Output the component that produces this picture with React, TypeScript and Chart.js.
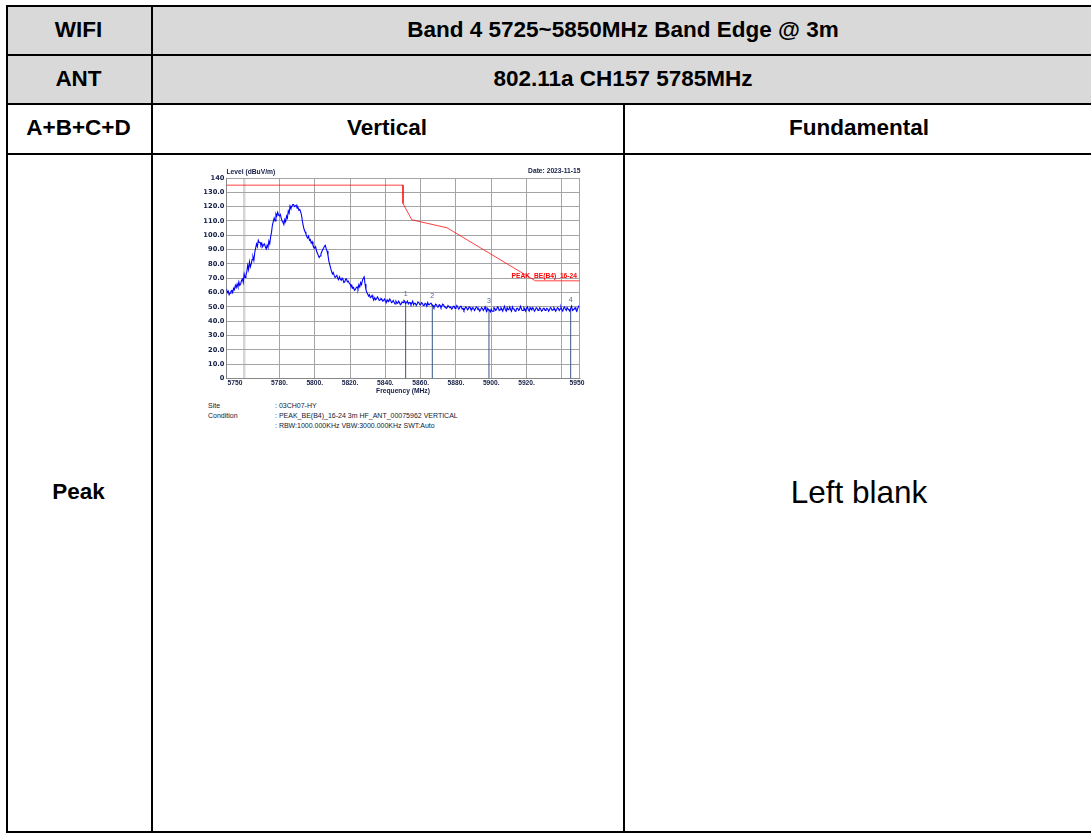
import React, { useEffect, useRef } from "react";
import { Chart, registerables } from "chart.js";

Chart.register(...registerables);

// ---- Data ----
const traceStartMHz = 5750;
const traceStepMHz = 0.5;
const traceLevels = [
  62.5, 60, 61, 58.5, 59.5, 61, 61.5, 60, 63, 62,
  65, 63.5, 66, 64, 67.5, 65, 66, 68.5, 69.5, 67,
  73, 70.5, 72, 74.5, 79, 76, 81.5, 78, 80, 83,
  85, 82.5, 88, 91, 94, 92, 96.5, 95, 95, 93,
  94.5, 92, 93.5, 94, 92, 90.5, 93, 91.5, 96, 94,
  99, 102, 107, 109.5, 112, 110, 115, 113.5, 116, 114,
  113.5, 114.5, 112, 110, 109, 107.5, 111, 109.5, 113.5, 112,
  117, 115.5, 120.5, 119, 120, 121.5, 121.5, 120, 120.5, 121,
  119, 119.5, 117.5, 118, 116.5, 114, 110, 106.5, 104, 102.5,
  101, 99, 98, 99.5, 96.5, 97, 94.5, 95.5, 93, 92,
  91, 92, 89, 87.5, 86, 84.5, 85.5, 87, 88.5, 90,
  91, 92.5, 93, 90.5, 89, 86, 82, 79.5, 77, 75,
  73, 74, 72, 70.5, 70.5, 72, 70, 69, 71, 69.5,
  68.5, 70, 69, 67, 67.5, 69.5, 69.5, 67.5, 68, 66.5,
  66, 64.5, 65, 63, 63.5, 61.5, 62, 63.5, 64, 62.5,
  65.5, 64, 67, 65.5, 68.5, 70, 71, 66, 62, 60,
  59, 57.5, 58.5, 56.5, 57, 58, 56, 55, 56.5, 55,
  55.5, 57, 56, 54.5, 55, 56, 55.5, 54, 54.5, 55.5,
  54, 53, 55, 54, 54, 55.5, 54.5, 53, 53.5, 54.5,
  53, 52, 54, 53, 52.5, 54, 53, 51.5, 52, 53.5,
  53, 54.5, 54, 52.5, 53, 54, 52, 53, 53, 51.5,
  52.5, 54, 51.5, 52.5, 52.5, 51, 52, 53.5, 53, 51.5,
  51.5, 53, 52.5, 51, 51, 52.5, 52, 50.5, 53, 51.5,
  51.5, 52.5, 52.5, 51, 51, 49.5, 50.5, 52, 51.5, 50,
  50, 51.5, 51, 49.5, 50.5, 52, 51.5, 50, 50, 49,
  49.5, 51, 51, 49.5, 50, 48.5, 49, 50.5, 50.5, 49,
  49.5, 51, 50, 48.5, 49, 50.5, 50.5, 48.5, 49, 47.5,
  48.5, 50, 49.5, 48, 48.5, 50, 49.5, 48, 48, 49.5,
  49, 47.5, 48.5, 50, 49.5, 48, 48.5, 47, 48, 49.5,
  49, 47.5, 48.5, 50, 48, 47, 49, 48, 47.5, 46.5,
  48.5, 47, 47, 49.5, 49, 47.5, 48, 50, 49.5, 47.5,
  48, 49.5, 48.5, 47, 49, 50.5, 48, 47, 49.5, 48,
  48.5, 50, 48, 47, 50, 48.5, 48.5, 47, 47.5, 49,
  49, 47.5, 48, 50.5, 49, 47.5, 47.5, 49.5, 48.5, 47,
  49, 50, 48, 47, 49.5, 48.5, 48, 49.5, 48.5, 47,
  48, 49.5, 49, 47.5, 48, 49.5, 48.5, 47, 47.5, 49,
  49, 47.5, 48, 49, 48.5, 47, 48, 49.5, 49, 47.5,
  48, 49.5, 48.5, 47, 48, 49.5, 49, 47.5, 48.5, 50,
  48, 47, 49, 50, 48.5, 47.5, 49.5, 48.5, 48, 47,
  49, 50.5, 47.5, 48, 48.5, 49.5, 48, 47, 49, 50.5,
  50,
];

const limitFreqs = [5750, 5850, 5850, 5855, 5875, 5925, 5950];
const limitLevels = [135, 135, 122.2, 110.8, 105.2, 68.2, 68.2];

const markerIds = ["1", "2", "3", "4"];
const markerFreqs = [5851.5, 5866.6, 5898.7, 5945];
const markerLevels = [53.5, 52, 48.5, 49];

const xGridValues = [5760, 5780, 5800, 5820, 5840, 5860, 5880, 5900, 5920, 5940, 5950];
const xLabelValues = [5750, 5780, 5800, 5820, 5840, 5860, 5880, 5900, 5920, 5950];
const xLabelTexts = ["5750", "5780.", "5800.", "5820.", "5840.", "5860.", "5880.", "5900.", "5920.", "5950"];

const limitName = "PEAK_BE(B4)_16-24";
const yTitle = "Level (dBuV/m)";
const xTitle = "Frequency (MHz)";
const dateText = "Date: 2023-11-15";

const infoLabels = ["Site", "Condition", ""];
const infoValues = [
  ": 03CH07-HY",
  ": PEAK_BE(B4)_16-24 3m HF_ANT_00075962 VERTICAL",
  ": RBW:1000.000KHz VBW:3000.000KHz SWT:Auto",
];

// ---- Layout constants ----
const CANVAS_LEFT = 190;
const CANVAS_TOP = 160;
const CANVAS_W = 410;
const CANVAS_H = 240;
const NAVY = "#141d45";

function SpectrumChart() {
  const ref = useRef<HTMLCanvasElement | null>(null);
  useEffect(() => {
    const canvas = ref.current;
    if (!canvas) return;
    const tracePoints = traceLevels.map((v, i) => ({ x: traceStartMHz + i * traceStepMHz, y: v }));
    const limitPoints = limitFreqs.map((f, i) => ({ x: f, y: limitLevels[i] }));
    const markerSets = markerFreqs.map((f, i) => ({
      data: [
        { x: f, y: 0 },
        { x: f, y: markerLevels[i] },
      ],
      borderColor: "#3a5786",
      borderWidth: 1,
      pointRadius: 0,
      order: 3,
    }));

    const overlay = {
      id: "overlay",
      afterDraw(chart: any) {
        const { ctx, chartArea } = chart;
        const xs = chart.scales.x;
        const ys = chart.scales.y;
        ctx.save();
        ctx.textBaseline = "middle";
        ctx.fillStyle = NAVY;
        ctx.font = 'bold 6.7px "Liberation Sans", Arial, sans-serif';
        ctx.textAlign = "left";
        ctx.fillText(yTitle, chartArea.left, 12);
        ctx.textAlign = "right";
        ctx.fillText(dateText, chartArea.right + 1, 11);
        xLabelValues.forEach((v, i) => {
          const px = xs.getPixelForValue(v);
          if (i === 0) {
            ctx.textAlign = "left";
            ctx.fillText(xLabelTexts[i], px + 1, 223);
          } else if (i === xLabelValues.length - 1) {
            ctx.textAlign = "right";
            ctx.fillText(xLabelTexts[i], px + 5, 223);
          } else {
            ctx.textAlign = "center";
            ctx.fillText(xLabelTexts[i], px, 223);
          }
        });
        ctx.textAlign = "center";
        ctx.fillText(xTitle, (chartArea.left + chartArea.right) / 2, 231);
        ctx.fillStyle = "#ff0000";
        ctx.textAlign = "right";
        ctx.fillText(
          limitName,
          xs.getPixelForValue(5950) - 2.5,
          ys.getPixelForValue(limitLevels[limitLevels.length - 1]) - 5
        );
        ctx.font = '7px "Liberation Sans", Arial, sans-serif';
        ctx.fillStyle = "#4d6896";
        ctx.textAlign = "center";
        markerFreqs.forEach((f, i) => {
          ctx.fillText(markerIds[i], xs.getPixelForValue(f), ys.getPixelForValue(markerLevels[i]) - 8);
        });
        ctx.restore();
      },
    };

    const chart = new Chart(canvas, {
      type: "line",
      data: {
        datasets: [
          {
            data: tracePoints,
            borderColor: "#0000ff",
            borderWidth: 1.1,
            pointRadius: 0,
            tension: 0,
            order: 1,
          },
          {
            data: limitPoints,
            borderColor: "rgba(255,0,0,0.75)",
            borderWidth: 1,
            pointRadius: 0,
            tension: 0,
            order: 2,
          },
          ...markerSets,
        ],
      },
      options: {
        animation: false,
        responsive: false,
        maintainAspectRatio: false,
        parsing: false as any,
        layout: { padding: { top: 18, right: 20.5, left: 0, bottom: 0 } },
        plugins: { legend: { display: false }, tooltip: { enabled: false } },
        scales: {
          x: {
            type: "linear",
            min: 5750,
            max: 5950,
            afterBuildTicks: (s: any) => {
              s.ticks = xGridValues.map((v) => ({ value: v }));
            },
            afterFit: (s: any) => {
              s.height = 21.5;
            },
            ticks: { display: false },
            grid: {
              drawTicks: false,
              color: (c: any) => (c.tick && c.tick.value === 5760 ? "#d6d6d6" : "#a4a4a4"),
              lineWidth: (c: any) => (c.tick && c.tick.value === 5760 ? 2.5 : 1),
            },
            border: { display: true, color: "#888888", width: 1 },
          },
          y: {
            type: "linear",
            min: 0,
            max: 140,
            afterFit: (s: any) => {
              s.width = 36.5;
            },
            ticks: {
              stepSize: 10,
              padding: 2,
              color: NAVY,
              font: { family: '"DejaVu Sans", sans-serif', size: 6.7, weight: "bold" },
              callback: (v: any) => (v === 0 ? "0" : v === 140 ? "140" : Number(v).toFixed(1)),
            },
            grid: { drawTicks: false, color: "#a4a4a4", lineWidth: 1 },
            border: { display: true, color: "#888888", width: 1 },
          },
        },
      },
      plugins: [overlay],
    } as any);
    return () => chart.destroy();
  }, []);
  return (
    <canvas
      ref={ref}
      width={CANVAS_W}
      height={CANVAS_H}
      style={{ position: "absolute", left: CANVAS_LEFT, top: CANVAS_TOP, width: CANVAS_W, height: CANVAS_H }}
    />
  );
}

const LINE = "#000";

function HLine({ y, x1, x2 }: { y: number; x1: number; x2: number }) {
  return <div style={{ position: "absolute", left: x1, top: y, width: x2 - x1, height: 2, background: LINE }} />;
}
function VLine({ x, y1, y2 }: { x: number; y1: number; y2: number }) {
  return <div style={{ position: "absolute", left: x, top: y1, width: 2, height: y2 - y1, background: LINE }} />;
}
function Cell({
  x1,
  x2,
  y1,
  y2,
  text,
  size,
  bold,
}: {
  x1: number;
  x2: number;
  y1: number;
  y2: number;
  text: string;
  size: number;
  bold: boolean;
}) {
  return (
    <div
      style={{
        position: "absolute",
        left: x1,
        top: y1,
        width: x2 - x1,
        height: y2 - y1,
        display: "flex",
        alignItems: "center",
        justifyContent: "center",
        fontSize: size,
        fontWeight: bold ? 700 : 400,
        color: "#000",
        whiteSpace: "nowrap",
      }}
    >
      {text}
    </div>
  );
}

export default function App() {
  const L = 6;
  const R = 1095;
  const C1 = 151;
  const C2 = 623;
  const R0 = 5;
  const R1 = 54;
  const R2 = 103;
  const R3 = 153;
  const R4 = 831;
  const HS = 22.5;
  return (
    <div
      style={{
        position: "absolute",
        left: 0,
        top: 0,
        width: 1091,
        height: 835,
        overflow: "hidden",
        background: "#fff",
        fontFamily: '"Liberation Sans", Arial, Helvetica, sans-serif',
      }}
    >
      <div style={{ position: "absolute", left: L, top: R0, width: R - L, height: R2 - R0, background: "#d9d9d9" }} />
      <Cell x1={L} x2={C1} y1={R0} y2={R1} text="WIFI" size={HS} bold />
      <Cell x1={C1} x2={R} y1={R0} y2={R1} text="Band 4 5725~5850MHz Band Edge @ 3m" size={HS} bold />
      <Cell x1={L} x2={C1} y1={R1} y2={R2} text="ANT" size={HS} bold />
      <Cell x1={C1} x2={R} y1={R1} y2={R2} text="802.11a CH157 5785MHz" size={HS} bold />
      <Cell x1={L} x2={C1} y1={R2} y2={R3} text="A+B+C+D" size={HS} bold />
      <Cell x1={C1} x2={C2} y1={R2} y2={R3} text="Vertical" size={HS} bold />
      <Cell x1={C2} x2={R} y1={R2} y2={R3} text="Fundamental" size={HS} bold />
      <Cell x1={L} x2={C1} y1={R3} y2={R4} text="Peak" size={HS} bold />
      <Cell x1={C2} x2={R} y1={R3} y2={R4} text="Left blank" size={31.5} bold={false} />

      <HLine y={R0} x1={L} x2={R} />
      <HLine y={R1} x1={L} x2={R} />
      <HLine y={R2} x1={L} x2={R} />
      <HLine y={R3} x1={L} x2={R} />
      <HLine y={R4} x1={L} x2={R} />
      <VLine x={L} y1={R0} y2={R4 + 2} />
      <VLine x={C1} y1={R0} y2={R4 + 2} />
      <VLine x={C2} y1={R2} y2={R4 + 2} />

      <SpectrumChart />

      {infoLabels.map((lab, i) => (
        <React.Fragment key={i}>
          <div
            style={{
              position: "absolute",
              left: 208,
              top: 401 + i * 9.8,
              fontSize: 7,
              lineHeight: "10px",
              color: "#141a33",
              whiteSpace: "nowrap",
            }}
          >
            {lab}
          </div>
          <div
            style={{
              position: "absolute",
              left: 275,
              top: 401 + i * 9.8,
              fontSize: 7,
              lineHeight: "10px",
              color: "#141a33",
              whiteSpace: "nowrap",
            }}
          >
            {infoValues[i]}
          </div>
        </React.Fragment>
      ))}
    </div>
  );
}
